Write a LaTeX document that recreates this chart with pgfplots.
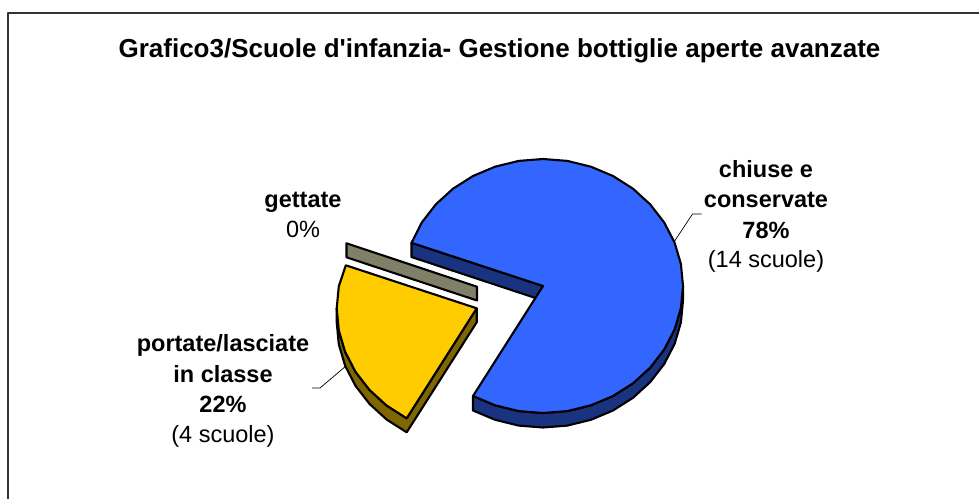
\documentclass[border=0pt]{standalone}
\usepackage{pgfplots}
\pgfplotsset{compat=1.18}
\usepackage{fontspec}
\setmainfont{Liberation Sans}
\definecolor{blueTop}{HTML}{3366FF}
\definecolor{blueSide}{HTML}{1A3380}
\definecolor{yelTop}{HTML}{FFCC00}
\definecolor{yelSide}{HTML}{806600}
\definecolor{graySide}{HTML}{808068}
\begin{document}
\begin{tikzpicture}
\useasboundingbox (0,0) rectangle (979bp,499bp);
\begin{axis}[at={(0,0)},anchor=south west,scale only axis,width=979bp,height=499bp,
  xmin=0,xmax=979,ymin=0,ymax=499,y dir=reverse,hide axis,clip=false,
  every axis plot/.append style={line join=round}]
% frame
\addplot[draw=black!80,line width=1.5bp] coordinates {(8,499) (8,13) (979,13)};
% leader lines
\addplot[black,line width=0.7bp] coordinates {(674,242) (692.5,214) (701.5,214)};
\addplot[black,line width=0.7bp] coordinates {(346,366) (320,388) (312,388)};
% blue side (rim)
\addplot[fill=blueSide,draw=black,line width=2.1bp] coordinates {
 (683,286) (680.9,308) (674.6,329.4) (664.2,349.5) (650.2,367.6) (633,383.3) (613,396) (590.9,405.3) (567.3,411.1) (543,413) (518.7,411.1) (495.1,405.3) (473,396)
 (473,410.5) (495.1,419.8) (518.7,425.6) (543,427.5) (567.3,425.6) (590.9,419.8) (613,410.5) (633,397.8) (650.2,382.1) (664.2,364) (674.6,343.9) (680.9,322.5) (683,300.5)} -- cycle;
% blue cut face
\addplot[fill=blueSide,draw=black,line width=2.1bp] coordinates {(411.5,242.8) (543,286) (543,300.5) (411.5,257)} -- cycle;
% blue top
\addplot[fill=blueTop,draw=black,line width=2.1bp] coordinates {
 (543,286) (411.5,242.8) (421.8,222.5) (435.8,204.4) (453,188.7) (473,176) (495.1,166.7) (518.7,160.9) (543,159) (567.3,160.9) (590.9,166.7) (613,176) (633,188.7) (650.2,204.4) (664.2,222.5) (674.6,242.6) (680.9,264) (683,286) (680.9,308) (674.6,329.4) (664.2,349.5) (650.2,367.6) (633,383.3) (613,396) (590.9,405.3) (567.3,411.1) (543,413) (518.7,411.1) (495.1,405.3) (473,396)} -- cycle;
% gray zero slice
\addplot[fill=graySide,draw=black,line width=2.1bp] coordinates {(346.5,243.3) (477,286.7) (477,300.5) (346.5,257.3)} -- cycle;
% yellow side
\addplot[fill=yelSide,draw=black,line width=2.1bp] coordinates {
 (336.7,308.3) (338.8,330.4) (345.1,351.7) (355.5,371.8) (369.5,389.9) (386.7,405.6) (406.7,418.3) (476.7,308.3)
 (476.7,322.3) (406.7,432.3) (386.7,419.6) (369.5,403.9) (355.5,385.8) (345.1,365.7) (338.8,344.4) (336.7,322.3)} -- cycle;
% yellow top
\addplot[fill=yelTop,draw=black,line width=2.1bp] coordinates {
 (476.7,308.3) (345.8,265.3) (338.8,286.3) (336.7,308.3) (338.8,330.4) (345.1,351.7) (355.5,371.8) (369.5,389.9) (386.7,405.6) (406.7,418.3)} -- cycle;
% text
\node[font=\bfseries\fontsize{26bp}{30bp}\selectfont,anchor=base] at (axis cs:499.5,58) {Grafico3/Scuole d\XeTeXglyph\numexpr\XeTeXcharglyph"27\relax infanzia- Gestione bottiglie aperte avanzate};
\def\lab{\fontsize{23.5bp}{28bp}\selectfont}
\tikzset{every node/.append style={anchor=base}}
\node[font=\lab\bfseries] at (axis cs:303,207) {gettate};
\node[font=\lab] at (axis cs:303,237) {0\%};
\node[font=\lab\bfseries] at (axis cs:766,177) {chiuse e};
\node[font=\lab\bfseries] at (axis cs:766,207) {conservate};
\node[font=\lab\bfseries] at (axis cs:766,238) {78\%};
\node[font=\lab] at (axis cs:766,267.5) {(14 scuole)};
\node[font=\lab\bfseries] at (axis cs:223,351) {portate/lasciate};
\node[font=\lab\bfseries] at (axis cs:223,382) {in classe};
\node[font=\lab\bfseries] at (axis cs:223,412) {22\%};
\node[font=\lab] at (axis cs:223,442) {(4 scuole)};
\end{axis}
\end{tikzpicture}
\end{document}
